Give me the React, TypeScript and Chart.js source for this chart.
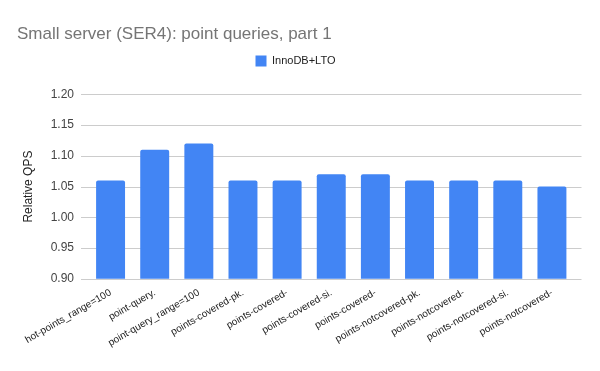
import React, { useEffect, useRef } from "react";
import { Chart, registerables } from "chart.js";
Chart.register(...registerables);

const categories = [
  "hot-points_range=100",
  "point-query.",
  "point-query_range=100",
  "points-covered-pk.",
  "points-covered-",
  "points-covered-si.",
  "points-covered-",
  "points-notcovered-pk.",
  "points-notcovered-",
  "points-notcovered-si.",
  "points-notcovered-",
];
const seriesName = "InnoDB+LTO";
const values = [1.06, 1.11, 1.12, 1.06, 1.06, 1.07, 1.07, 1.06, 1.06, 1.06, 1.05];
const yMin = 0.9;
const yMax = 1.2;
const yStep = 0.05;

const FONT = "'Liberation Sans', Arial, sans-serif";
const GRID_EXT = 7.5;

const legendGap = {
  id: "legendGap",
  beforeInit(chart: any) {
    const orig = chart.legend.fit;
    chart.legend.fit = function () {
      orig.call(this);
      this.height += 18;
    };
  },
};

// horizontal gridlines that run a little past the bar area, as in the original
const extGrid = {
  id: "extGrid",
  beforeDatasetsDraw(chart: any) {
    const { ctx, chartArea, scales } = chart;
    const y = scales.y;
    ctx.save();
    ctx.strokeStyle = "#cccccc";
    ctx.lineWidth = 1;
    y.ticks.forEach((t: any) => {
      const py = Math.round(y.getPixelForValue(t.value)) + 0.5;
      ctx.beginPath();
      ctx.moveTo(chartArea.left - GRID_EXT, py);
      ctx.lineTo(chartArea.right + GRID_EXT, py);
      ctx.stroke();
    });
    ctx.restore();
  },
};

export default function App() {
  const ref = useRef<HTMLCanvasElement>(null);
  useEffect(() => {
    document.body.style.margin = "0";
    const chart = new Chart(ref.current!, {
      type: "bar",
      data: {
        labels: categories,
        datasets: [
          {
            label: seriesName,
            data: values,
            backgroundColor: "#4285f4",
            borderWidth: 0,
            borderRadius: { topLeft: 2, topRight: 2 },
            categoryPercentage: 0.656,
            barPercentage: 1,
          },
        ],
      },
      plugins: [legendGap, extGrid],
      options: {
        animation: false,
        responsive: false,
        layout: { padding: { left: 17, right: 26, top: 9, bottom: 14 } },
        plugins: {
          title: {
            display: true,
            text: "Small server (SER4): point queries, part 1",
            align: "start",
            color: "#757575",
            font: { family: FONT, size: 17, weight: "normal" },
            padding: { top: 15, bottom: 1 },
          },
          legend: {
            display: true,
            labels: {
              boxWidth: 11,
              boxHeight: 11,
              color: "#222",
              font: { family: FONT, size: 11 },
            },
          },
          tooltip: { enabled: false },
        },
        scales: {
          x: {
            grid: { display: false, drawTicks: false },
            border: { display: false },
            afterFit: (s: any) => {
              s.paddingLeft = 0;
              s.paddingRight = 0;
            },
            ticks: {
              minRotation: 30,
              maxRotation: 30,
              color: "#222",
              font: { family: FONT, size: 10 },
              autoSkip: false,
              padding: 8,
            },
          },
          y: {
            min: yMin,
            max: yMax,
            afterFit: (s: any) => {
              s.width = 71.5;
            },
            ticks: {
              stepSize: yStep,
              color: "#444",
              font: { family: FONT, size: 12 },
              callback: (v: any) => Number(v).toFixed(2),
              padding: 14.5,
            },
            grid: { display: false, drawTicks: false },
            border: { display: false },
            title: {
              display: true,
              text: "Relative QPS",
              color: "#222",
              font: { family: FONT, size: 12 },
              padding: { top: 4, bottom: 4 },
            },
          },
        },
      },
    });
    return () => chart.destroy();
  }, []);
  return (
    <div style={{ width: 600, height: 371 }}>
      <canvas ref={ref} width={600} height={371} />
    </div>
  );
}
